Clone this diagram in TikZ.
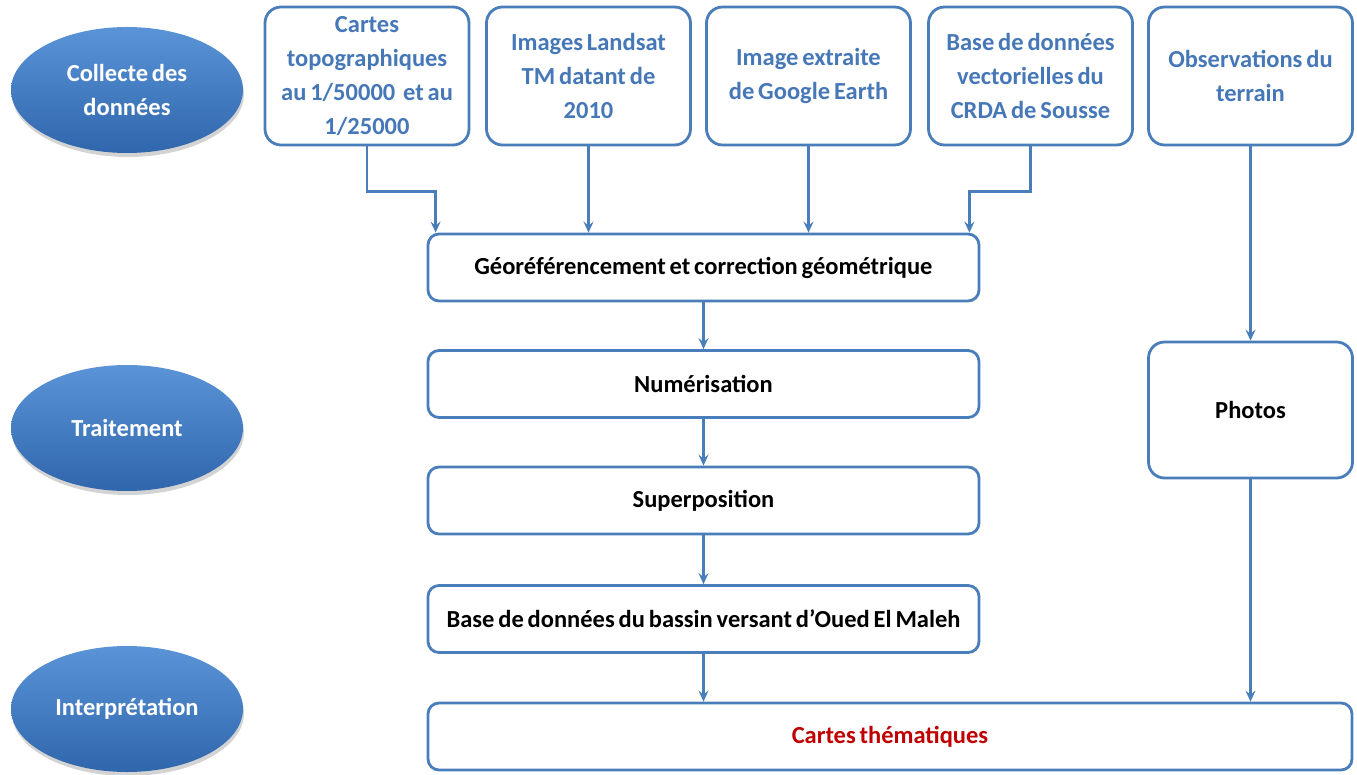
\documentclass[tikz,border=0pt]{standalone}
\usepackage{fontspec}
\setmainfont{Carlito}[WordSpace=0.7]
\usetikzlibrary{shapes.geometric,arrows.meta,shadows,calc}
\definecolor{lineblue}{RGB}{74,126,187}
\definecolor{textblue}{RGB}{70,120,184}
\definecolor{elltop}{RGB}{90,148,215}
\definecolor{ellbot}{RGB}{48,102,172}
\definecolor{darkred}{RGB}{192,0,0}
\tikzset{
  topbox/.style={draw=lineblue, line width=2.8pt, rounded corners=16pt, fill=white,
    minimum width=204pt, minimum height=138pt, inner sep=0pt, align=center,
    font=\fontsize{24.5}{34}\selectfont\bfseries, text=textblue},
  flatbox/.style={draw=lineblue, line width=2.8pt, rounded corners=11pt, fill=white,
    minimum height=67pt, inner sep=0pt, align=center,
    font=\fontsize{24.5}{30}\selectfont\bfseries, text=black},
  phase/.style={ellipse, minimum width=232pt, minimum height=126pt, inner sep=0pt,
    shading=axis, top color=elltop, bottom color=ellbot, align=center, text=white,
    font=\fontsize{24.5}{34}\selectfont\bfseries,
    drop shadow={opacity=0.35, shadow xshift=1pt, shadow yshift=-4pt}},
  arr/.style={draw=lineblue, line width=2.8pt, -{Stealth[length=11pt,width=10pt,inset=4pt]}}
}
\begin{document}
\begin{tikzpicture}[x=1pt,y=1pt]
\useasboundingbox (0,0) rectangle (1357,-775);
% phases
\node[phase] (e1) at (127,-90) {Collecte des\\données};
\node[phase] (e2) at (127,-428) {Traitement};
\node[phase] (e3) at (127,-709) {Interprétation};
% top boxes
\node[topbox] (c1) at (367,-76) {Cartes\\topographiques\\au 1/50000\ \ et au\\1/25000};
\node[topbox] (c2) at (588.5,-76) {Images Landsat\\TM datant de\\2010};
\node[topbox] (c3) at (808.5,-76) {Image extraite\\de Google Earth};
\node[topbox] (c4) at (1030.5,-76) {Base de données\\vectorielles du\\CRDA de Sousse};
\node[topbox] (c5) at (1250.5,-76) {Observations du\\terrain};
% process boxes
\node[flatbox, minimum width=551pt] (geo) at (703.5,-267.5) {Géoréférencement et correction géométrique};
\node[flatbox, minimum width=551pt] (num) at (703.5,-384) {Numérisation};
\node[flatbox, minimum width=551pt] (sup) at (703.5,-500.5) {Superposition};
\node[flatbox, minimum width=551pt] (base) at (703.5,-619) {Base de données du bassin versant d’Oued El Maleh};
\node[flatbox, minimum width=204pt, minimum height=136pt, rounded corners=16pt] (photos) at (1250.5,-410) {Photos};
\node[flatbox, minimum width=924pt, text=darkred] (cartes) at (890,-736.5) {Cartes thématiques};
% connectors
\draw[arr] (c1.south) -- ++(0,-45) -| ([xshift=9pt]geo.north west);
\draw[arr] (c2.south) -- (c2.south |- geo.north);
\draw[arr] (c3.south) -- (c3.south |- geo.north);
\draw[arr] (c4.south) -- ++(0,-45) -| ([xshift=-11pt]geo.north east);
\draw[arr] (c5.south) -- (photos.north);
\draw[arr] (photos.south) -- (photos.south |- cartes.north);
\draw[arr] (geo.south) -- (num.north);
\draw[arr] (num.south) -- (sup.north);
\draw[arr] (sup.south) -- (base.north);
\draw[arr] (base.south) -- (base.south |- cartes.north);
\end{tikzpicture}
\end{document}
